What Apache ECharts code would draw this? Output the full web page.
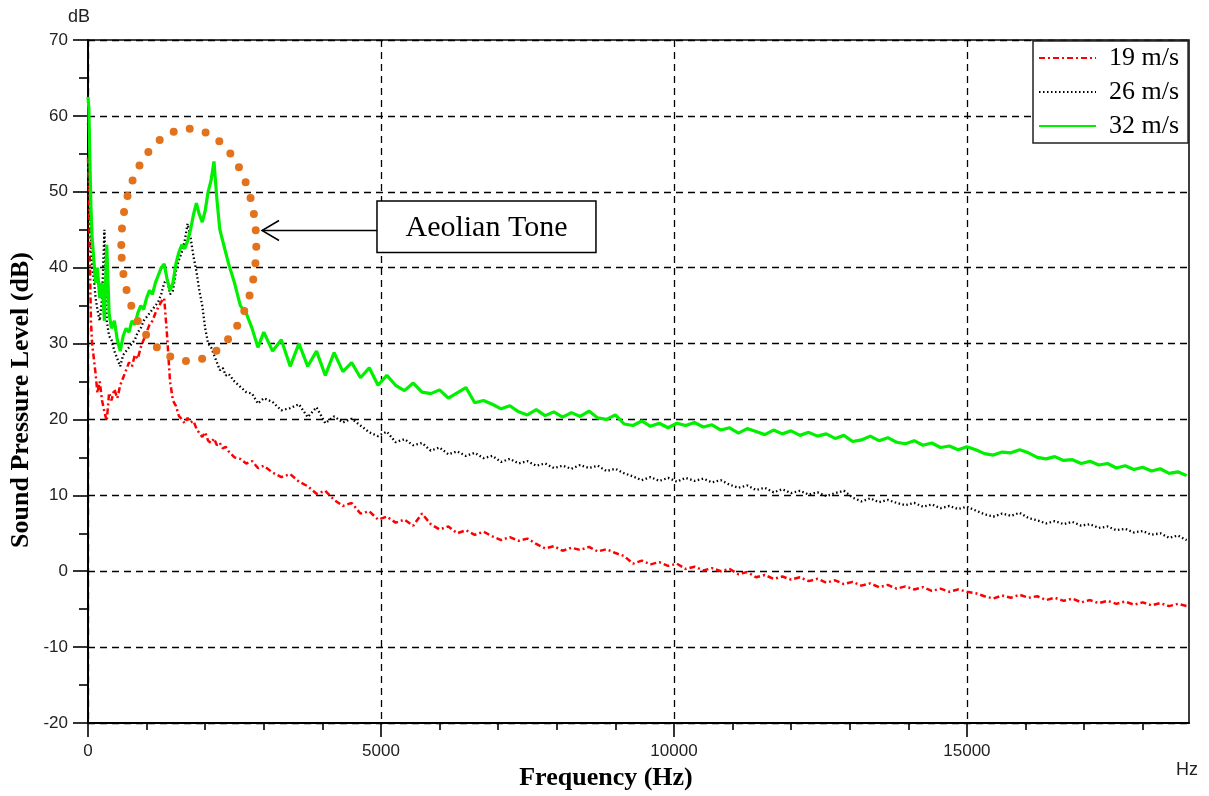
<!DOCTYPE html>
<html>
<head>
<meta charset="UTF-8">
<title>Sound Pressure Level</title>
<script src="https://cdn.jsdelivr.net/npm/echarts@6/dist/echarts.min.js"></script>
<style>
  html, body { margin: 0; padding: 0; background: #fff; }
  #chart { width: 1209px; height: 796px; }
</style>
</head>
<body>
<div id="chart"></div>
<script>
// frequency grid (Hz): fine below 3 kHz, 150 Hz steps above
var freqLow = [0, 15, 30, 50, 70, 100, 130, 160, 200, 240,
  280, 320, 360, 400, 450, 500, 550, 600, 650, 700,
  750, 800, 850, 900, 950, 1000, 1050, 1100, 1150, 1200,
  1250, 1300, 1350, 1400, 1450, 1500, 1550, 1600, 1650, 1700,
  1750, 1800, 1850, 1900, 1950, 2000, 2050, 2100, 2150, 2200,
  2250, 2300, 2350, 2400, 2500, 2600, 2700, 2800, 2900, 3000];
var freqHigh = [3150, 3300, 3450, 3600, 3750, 3900, 4050, 4200, 4350, 4500,
  4650, 4800, 4950, 5100, 5250, 5400, 5550, 5700, 5850, 6000,
  6150, 6300, 6450, 6600, 6750, 6900, 7050, 7200, 7350, 7500,
  7650, 7800, 7950, 8100, 8250, 8400, 8550, 8700, 8850, 9000,
  9150, 9300, 9450, 9600, 9750, 9900, 10050, 10200, 10350, 10500,
  10650, 10800, 10950, 11100, 11250, 11400, 11550, 11700, 11850, 12000,
  12150, 12300, 12450, 12600, 12750, 12900, 13050, 13200, 13350, 13500,
  13650, 13800, 13950, 14100, 14250, 14400, 14550, 14700, 14850, 15000,
  15150, 15300, 15450, 15600, 15750, 15900, 16050, 16200, 16350, 16500,
  16650, 16800, 16950, 17100, 17250, 17400, 17550, 17700, 17850, 18000,
  18150, 18300, 18450, 18600, 18750];

// 19 m/s (dB)
var spl19Low = [54.5, 51, 42, 33, 30, 28, 26, 23.5, 25, 22.5,
  21, 19.8, 23.5, 22.5, 24, 22.8, 24.5, 25.5, 26.5, 27.5,
  27, 28.5, 28, 29.5, 30.5, 31.5, 32.5, 33, 34, 34.8,
  35.5, 36, 31, 25, 22.5, 21.8, 20.5, 20, 19.5, 20.2,
  19.6, 19.8, 18.8, 18.2, 17.7, 18.3, 17.2, 16.9, 17.5, 16.6,
  16.9, 16.2, 16.4, 15.8, 15.0, 14.8, 14.2, 14.5, 13.6, 13.9];
var spl19High = [13.0, 12.4, 12.8, 11.8, 11.2, 10.2, 10.6, 9.4, 8.6, 9.0,
  7.6, 7.9, 6.8, 7.2, 6.4, 6.8, 6.0, 7.6, 6.2, 5.5,
  5.9, 5.0, 5.4, 4.8, 5.2, 4.6, 4.1, 4.5, 4.0, 4.3,
  3.6, 3.0, 3.3, 2.7, 3.1, 2.8, 3.2, 2.6, 2.9, 2.4,
  2.0, 1.0, 1.4, 0.9, 1.2, 0.7, 1.0, 0.3, 0.6, 0.1,
  0.4, 0.0, 0.3, -0.4, -0.1, -0.8, -0.5, -1.0, -0.7, -1.1,
  -0.8, -1.3, -1.0, -1.5, -1.2, -1.7, -1.4, -1.9, -1.6, -2.1,
  -1.8, -2.3, -2.0, -2.4, -2.1, -2.6, -2.3, -2.7, -2.4, -2.7,
  -2.9, -3.3, -3.6, -3.2, -3.5, -3.1, -3.5, -3.3, -3.8, -3.5,
  -3.9, -3.6, -4.1, -3.8, -4.2, -3.9, -4.3, -4.0, -4.4, -4.1,
  -4.5, -4.2, -4.6, -4.3, -4.6];

// 26 m/s (dB)
var spl26Low = [59, 56, 50, 44, 40, 38.5, 36, 34.5, 33, 36,
  45, 33, 31, 30.5, 29, 28, 27, 28.5, 29, 29.5,
  30, 30.5, 31.5, 32, 33, 33.5, 34, 34.5, 35, 35.5,
  36.5, 38, 38.5, 36.5, 37, 39.5, 41, 42, 43.5, 45.8,
  44, 41.5, 39.5, 37, 35, 32, 30, 29.5, 28.5, 27.5,
  26.5, 26.8, 25.8, 26, 25, 24.3, 23.6, 23.4, 22.1, 22.8];
var spl26High = [22.3, 21.2, 21.5, 22.0, 20.3, 21.6, 19.5, 20.4, 19.6, 20.1,
  19.2, 18.3, 17.8, 18.4, 17.0, 17.4, 16.6, 16.9, 15.9, 16.3,
  15.4, 15.8, 15.2, 15.6, 14.9, 15.2, 14.4, 14.8, 14.2, 14.5,
  13.9, 14.2, 13.6, 13.9, 13.5, 14.0, 13.6, 13.9, 13.2, 13.5,
  12.9, 12.5, 12.0, 12.4, 11.9, 12.3, 11.8, 12.3, 11.9, 12.2,
  11.7, 12.0, 11.4, 11.0, 11.3, 10.7, 11.0, 10.4, 10.8, 10.3,
  10.6, 10.1, 10.4, 9.9, 10.3, 10.6, 9.7, 9.2, 9.6, 9.1,
  9.4, 9.0, 8.7, 9.0, 8.5, 8.8, 8.3, 8.6, 8.2, 8.5,
  8.0, 7.5, 7.2, 7.6, 7.3, 7.7, 7.0, 6.7, 6.3, 6.6,
  6.2, 6.5, 6.0, 6.2, 5.7, 5.9, 5.4, 5.6, 5.1, 5.3,
  4.8, 5.0, 4.4, 4.7, 4.1];

// 32 m/s (dB)
var spl32Low = [62.5, 61, 55, 48, 44, 41, 38, 40, 36, 38,
  33, 43, 34, 32, 33, 30.5, 29, 31, 32, 31.5,
  33, 32.5, 34, 35, 34.5, 36, 37, 36.5, 38, 39,
  40, 40.5, 38.5, 37, 38, 40.5, 42, 43, 42.5, 43.5,
  45, 47, 48.5, 47, 46, 47.5, 50, 51.5, 54, 49,
  45, 43.5, 42, 40.5, 38, 35, 34, 32, 29.5, 31.5];
var spl32High = [29, 30.5, 27, 30, 27, 29, 25.8, 28.8, 26.3, 27.5,
  25.5, 26.8, 24.5, 25.8, 24.5, 23.8, 24.8, 23.6, 23.4, 23.9,
  22.8, 23.5, 24.2, 22.2, 22.5, 22.0, 21.4, 21.8, 21.0, 20.6,
  21.3, 20.5, 21.0, 20.3, 20.9, 20.4, 21.1, 20.2, 20.0, 20.6,
  19.4, 19.2, 19.8, 19.1, 19.5, 18.9, 19.5, 19.2, 19.6, 19.0,
  19.3, 18.6, 18.9, 18.2, 18.8, 18.4, 18.0, 18.6, 18.1, 18.5,
  17.9, 18.3, 17.8, 18.1, 17.5, 17.9, 17.1, 17.3, 17.8, 17.2,
  17.6, 17.0, 16.8, 17.2, 16.6, 16.9, 16.3, 16.5, 16.0, 16.4,
  16.0, 15.5, 15.3, 15.7, 15.6, 16.0, 15.6, 15.0, 14.8, 15.1,
  14.6, 14.7, 14.2, 14.5, 14.0, 14.2, 13.6, 13.9, 13.4, 13.7,
  13.2, 13.5, 12.9, 13.1, 12.6];

var xTicks = [0, 5000, 10000, 15000];
var xMinorTicks = [1000, 2000, 3000, 4000, 6000, 7000, 8000, 9000,
  11000, 12000, 13000, 14000, 16000, 17000, 18000];

var freq = freqLow.concat(freqHigh);
function pairs(lo, hi) {
  var v = lo.concat(hi);
  return freq.map(function (f, i) { return [f, v[i]]; });
}

var chart = echarts.init(document.getElementById('chart'));
var tickStyle = { color: '#000', width: 1.6 };
var labelFont = { color: '#222', fontFamily: 'Liberation Sans', fontSize: 17 };

chart.setOption({
  animation: false,
  backgroundColor: '#fff',
  grid: { left: 88, top: 40, right: 20, bottom: 73, show: true, borderColor: '#000', borderWidth: 1.5, backgroundColor: 'transparent' },
  legend: {
    data: ['19 m/s', '26 m/s', '32 m/s'],
    orient: 'vertical', left: 1033, top: 41,
    itemWidth: 57, itemHeight: 12, itemGap: 4,
    padding: [2, 9, 2, 5],
    itemStyle: { opacity: 0 },
    backgroundColor: '#fff', borderColor: '#222', borderWidth: 1.5,
    textStyle: { fontFamily: 'Liberation Serif', fontSize: 26, color: '#000', lineHeight: 30, padding: [0, 0, 0, 8] }
  },
  xAxis: [{
    type: 'value', min: 0, max: 18790, interval: 5000, position: 'bottom',
    axisLine: { show: true, onZero: false, lineStyle: { color: '#000', width: 2 } },
    axisTick: { show: true, inside: false, length: 14, lineStyle: tickStyle, customValues: xTicks },
    axisLabel: Object.assign({ margin: 20, customValues: xTicks, formatter: function (v) { return String(v); } }, labelFont),
    splitLine: { show: true, lineStyle: { color: '#000', type: [7, 5], width: 1.3 } }
  }, {
    type: 'value', min: 0, max: 18790, interval: 1000, position: 'bottom',
    axisLine: { show: false, onZero: false },
    axisTick: { show: true, inside: false, length: 7, lineStyle: tickStyle, customValues: xMinorTicks },
    axisLabel: { show: false },
    splitLine: { show: false }
  }],
  yAxis: {
    type: 'value', min: -20, max: 70, interval: 10,
    axisLine: { show: true, onZero: false, lineStyle: { color: '#000', width: 2 } },
    axisTick: { show: true, length: 15, lineStyle: tickStyle },
    minorTick: { show: true, splitNumber: 2, length: 9, lineStyle: tickStyle },
    axisLabel: Object.assign({ margin: 20 }, labelFont),
    splitLine: { show: true, lineStyle: { color: '#000', type: [7, 5], width: 1.3 } }
  },
  series: [{
    name: '19 m/s', type: 'line', symbol: 'none', data: pairs(spl19Low, spl19High),
    lineStyle: { color: '#ff0000', width: 2.5, type: [6, 3, 2, 3] }, itemStyle: { color: '#ff0000' }
  }, {
    name: '26 m/s', type: 'line', symbol: 'none', data: pairs(spl26Low, spl26High),
    lineStyle: { color: '#000', width: 2.3, type: [1.5, 2.5] }, itemStyle: { color: '#000' }
  }, {
    name: '32 m/s', type: 'line', symbol: 'none', data: pairs(spl32Low, spl32High),
    lineStyle: { color: '#00f000', width: 3.2 }, itemStyle: { color: '#00f000' }
  }]
});

// annotation, anchored to data coordinates
var toneCenter = chart.convertToPixel({ gridIndex: 0 }, [1720, 43]);
var toneEdge = chart.convertToPixel({ gridIndex: 0 }, [2872, 27.7]);
var arrowTip = chart.convertToPixel({ gridIndex: 0 }, [2970, 44.9]);
var boxA = chart.convertToPixel({ gridIndex: 0 }, [4932, 48.8]);
var boxB = chart.convertToPixel({ gridIndex: 0 }, [8669, 42.0]);

var serif = '"Liberation Serif", "Times New Roman", serif';
var mid = { align: 'center', verticalAlign: 'middle', textAlign: 'center', textVerticalAlign: 'middle' };
function txt(s, font, fill) {
  return Object.assign({ text: s, font: font, fill: fill }, mid);
}
chart.setOption({
  graphic: [
    { type: 'ellipse', z: 50,
      shape: { cx: toneCenter[0], cy: toneCenter[1], rx: toneEdge[0] - toneCenter[0], ry: toneEdge[1] - toneCenter[1] },
      style: { fill: 'none', stroke: '#e2731c', lineWidth: 8, lineDash: [0, 16.4], lineCap: 'round' } },
    { type: 'polyline', z: 50,
      shape: { points: [[arrowTip[0], arrowTip[1]], [boxA[0], arrowTip[1]]] },
      style: { stroke: '#000', lineWidth: 1.3, fill: 'none' } },
    { type: 'polyline', z: 50,
      shape: { points: [[arrowTip[0] + 17, arrowTip[1] - 10], [arrowTip[0], arrowTip[1]], [arrowTip[0] + 17, arrowTip[1] + 10]] },
      style: { stroke: '#000', lineWidth: 1.5, fill: 'none' } },
    { type: 'rect', z: 50,
      shape: { x: boxA[0], y: boxA[1], width: boxB[0] - boxA[0], height: boxB[1] - boxA[1] },
      style: { fill: '#fff', stroke: '#000', lineWidth: 1.5 } },
    { type: 'text', z: 51, x: (boxA[0] + boxB[0]) / 2, y: (boxA[1] + boxB[1]) / 2 + 1,
      style: txt('Aeolian Tone', '30px ' + serif, '#000') },
    { type: 'text', x: 79, y: 17, style: txt('dB', '18px "Liberation Sans"', '#222') },
    { type: 'text', x: 1187, y: 770, style: txt('Hz', '18px "Liberation Sans"', '#222') },
    { type: 'text', x: 606, y: 778, style: txt('Frequency (Hz)', 'bold 26px ' + serif, '#000') },
    { type: 'text', x: 21, y: 400, rotation: Math.PI / 2,
      style: txt('Sound Pressure Level (dB)', 'bold 26px ' + serif, '#000') }
  ]
});
</script>
</body>
</html>
